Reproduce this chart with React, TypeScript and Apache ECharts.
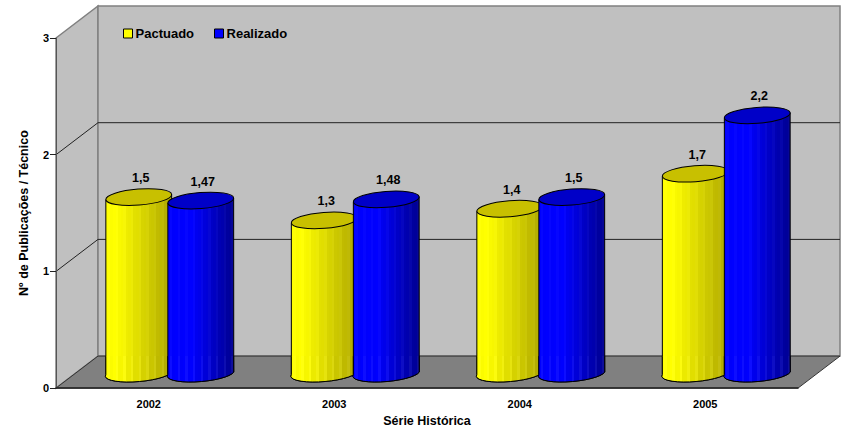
import React, { useEffect, useRef } from "react";
import * as echarts from "echarts";

const categories = ["2002", "2003", "2004", "2005"];
const pactuado = [1.5, 1.3, 1.4, 1.7];
const realizado = [1.47, 1.48, 1.5, 2.2];
const yTicks = [0, 1, 2, 3];

const FONT = '"Liberation Sans", Arial, sans-serif';
const DX = 42;
const DY = -32;
const RX = 33;
const RY = 8;
const TILT = 4.5;
const SHIFT = 31;

type RGB = [number, number, number];

function stripes(from: RGB, to: RGB, flat: number, amp: number) {
  const n = 26;
  const stops: { offset: number; color: string }[] = [];
  for (let k = 0; k < n; k++) {
    const t = k / n;
    const u = Math.max(0, (t - flat) / (1 - flat));
    const boost = k % 3 === 1 ? amp : k % 3 === 2 ? -amp / 2 : 0;
    const c = from.map((f, i) => {
      const v = f + (to[i] - f) * u;
      const lifted = v > 0 ? v + boost : Math.max(0, boost * 1.6);
      return Math.round(Math.max(0, Math.min(255, lifted)));
    });
    const color = `rgb(${c[0]},${c[1]},${c[2]})`;
    stops.push({ offset: t, color });
    stops.push({ offset: (k + 1) / n, color });
  }
  return new echarts.graphic.LinearGradient(0, 0, 1, 0, stops);
}

function cylinder(name: string, values: number[], side: number, from: RGB, to: RGB, flat: number, topColor: string, legendColor: string) {
  const bodyFill = stripes(from, to, flat, 4);
  const lowFill = stripes(from, to, flat, 9);
  return {
    name,
    type: "custom",
    z: side < 0 ? 3 : 4,
    itemStyle: { color: legendColor },
    encode: { x: 0, y: 1 },
    data: values.map((v, i) => [i, v]),
    renderItem: (_p: any, api: any) => {
      const cat = api.value(0);
      const val = api.value(1);
      const [fx, fy] = api.coord([cat, val]);
      const [, by] = api.coord([cat, 0]);
      const cx = fx + DX / 2 + side * SHIFT;
      const topY = fy + DY / 2;
      const baseY = by + DY / 2;
      const rad = (TILT * Math.PI) / 180;
      const ex = RX * Math.cos(rad);
      const ey = RX * Math.sin(rad);
      const xl = cx - ex;
      const xr = cx + ex;
      const arc = `A ${RX} ${RY} ${-TILT} 0 0`;
      const body = `M ${xl} ${topY + ey} L ${xl} ${baseY + ey} ${arc} ${xr} ${baseY - ey} L ${xr} ${topY - ey} Z`;
      const floorY = by + DY;
      const low = `M ${xl} ${floorY} L ${xl} ${baseY + ey} ${arc} ${xr} ${baseY - ey} L ${xr} ${floorY} Z`;
      return {
        type: "group",
        children: [
          { type: "path", shape: { pathData: body }, style: { fill: bodyFill, stroke: "#000", lineWidth: 1 } },
          { type: "path", shape: { pathData: low }, style: { fill: lowFill, stroke: "none" } },
          { type: "path", shape: { pathData: `M ${xl} ${floorY} L ${xl} ${baseY + ey} ${arc} ${xr} ${baseY - ey} L ${xr} ${floorY}` }, style: { fill: "none", stroke: "#000", lineWidth: 1 } },
          { type: "ellipse", x: cx, y: topY, rotation: (TILT * Math.PI) / 180, shape: { cx: 0, cy: 0, rx: RX, ry: RY }, style: { fill: topColor, stroke: "#000", lineWidth: 1 } },
          {
            type: "text",
            style: {
              x: cx + 2,
              y: topY - 19,
              text: String(val).replace(".", ","),
              fill: "#000",
              font: `bold 12.5px ${FONT}`,
              textAlign: "center",
              textVerticalAlign: "middle",
            },
          },
        ],
      };
    },
  };
}

const walls = {
  name: "walls",
  type: "custom",
  z: 1,
  silent: true,
  encode: { x: 0, y: 1 },
  data: [[0, 0]],
  renderItem: (params: any, api: any) => {
    const { x, y, width, height } = params.coordSys;
    const l = x, r = x + width, t = y, b = y + height;
    const children: any[] = [
      { type: "polygon", shape: { points: [[l, t], [l + DX, t + DY], [l + DX, b + DY], [l, b]] }, style: { fill: "#c0c0c0", stroke: "#808080", lineWidth: 1.5 } },
      { type: "polygon", shape: { points: [[l + DX, t + DY], [r + DX, t + DY], [r + DX, b + DY], [l + DX, b + DY]] }, style: { fill: "#c0c0c0", stroke: "#808080", lineWidth: 1.5 } },
      { type: "polygon", shape: { points: [[l, b], [l + DX, b + DY], [r + DX, b + DY], [r, b]] }, style: { fill: "#808080", stroke: "#333", lineWidth: 1 } },
    ];
    yTicks.slice(1, -1).forEach((v) => {
      const gy = api.coord([0, v])[1];
      children.push({
        type: "polyline",
        shape: { points: [[l, gy], [l + DX, gy + DY], [r + DX, gy + DY]] },
        style: { fill: "none", stroke: "#222", lineWidth: 1 },
      });
    });
    return { type: "group", children };
  },
};

export default function App() {
  const ref = useRef<HTMLDivElement>(null);
  useEffect(() => {
    const chart = echarts.init(ref.current!, null, { renderer: "svg" });
    chart.setOption({
      animation: false,
      backgroundColor: "#fff",
      textStyle: { fontFamily: FONT },
      grid: { left: 56, right: 47, top: 38, bottom: 39 },
      legend: {
        data: ["Pactuado", "Realizado"],
        left: 123,
        top: 27,
        padding: 0,
        icon: "rect",
        itemWidth: 9,
        itemHeight: 9,
        itemGap: 20,
        selectedMode: false,
        itemStyle: { borderColor: "#000", borderWidth: 1 },
        textStyle: { fontFamily: FONT, fontWeight: "bold", fontSize: 13, color: "#000", padding: [1, 0, 0, -2] },
      },
      xAxis: {
        type: "category",
        data: categories,
        z: 6,
        name: "Série Histórica",
        nameLocation: "center",
        nameGap: 25,
        nameTextStyle: { fontFamily: FONT, fontWeight: "bold", fontSize: 12.5, color: "#000" },
        axisLine: { lineStyle: { color: "#222", width: 1.5 } },
        axisTick: { length: 7, lineStyle: { color: "#222" } },
        axisLabel: { fontFamily: FONT, fontWeight: "bold", fontSize: 11, color: "#000", margin: 10 },
      },
      yAxis: {
        type: "value",
        min: 0,
        max: 3,
        interval: 1,
        z: 6,
        name: "Nº de Publicações / Técnico",
        nameLocation: "center",
        nameGap: 26,
        nameTextStyle: { fontFamily: FONT, fontWeight: "bold", fontSize: 12.5, color: "#000" },
        splitLine: { show: false },
        axisLine: { show: true, lineStyle: { color: "#555", width: 1 } },
        axisTick: { show: true, length: 6, lineStyle: { color: "#222" } },
        axisLabel: { fontFamily: FONT, fontWeight: "bold", fontSize: 11, color: "#000", margin: 7 },
      },
      series: [
        walls,
        cylinder("Pactuado", pactuado, -1, [255, 255, 0], [172, 165, 0], 0.15, "#c8c000", "#ffff00"),
        cylinder("Realizado", realizado, 1, [0, 0, 255], [0, 0, 140], 0.35, "#0000c8", "#0000ff"),
      ],
    });
    return () => chart.dispose();
  }, []);
  return <div ref={ref} style={{ position: "fixed", left: 0, top: 0, width: 845, height: 432 }} />;
}
